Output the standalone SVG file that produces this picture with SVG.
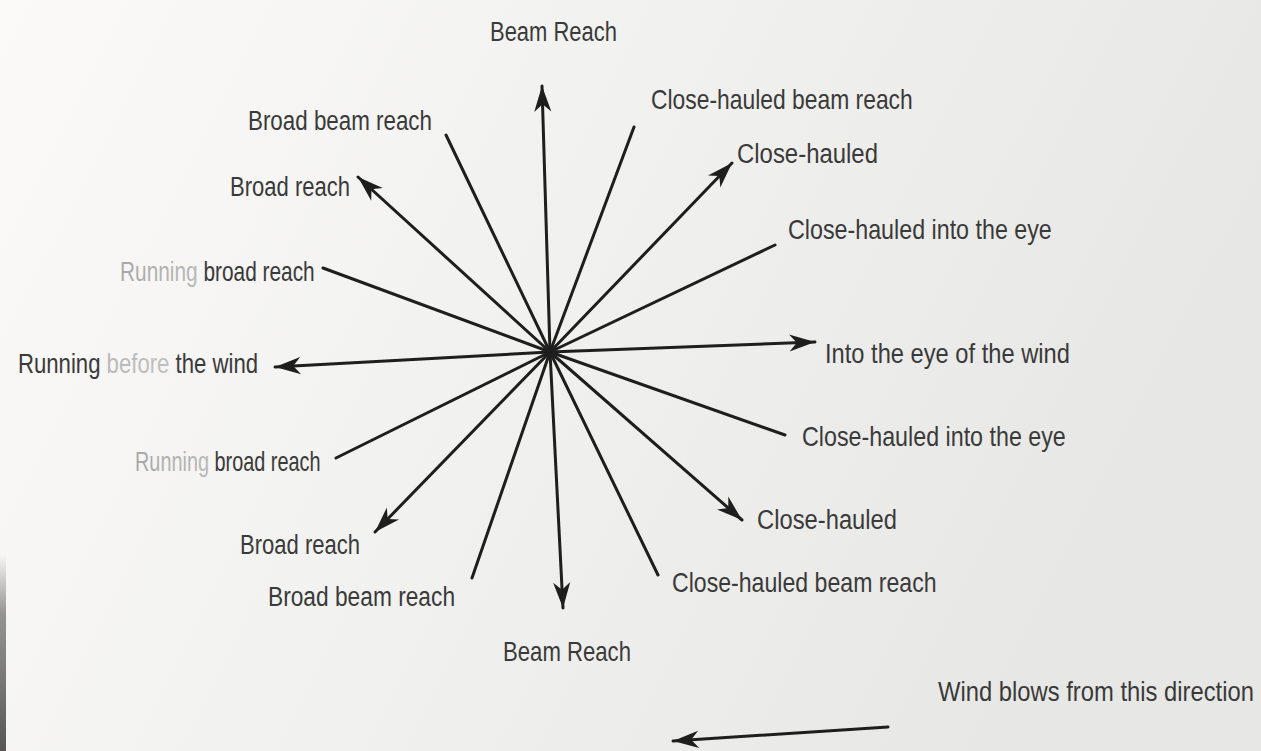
<svg xmlns="http://www.w3.org/2000/svg" width="1261" height="751" viewBox="0 0 1261 751">
<defs>
<linearGradient id="bg" x1="0" y1="0" x2="1" y2="0.3">
<stop offset="0" stop-color="#fbfaf8"/>
<stop offset="0.5" stop-color="#f1f1ef"/>
<stop offset="1" stop-color="#e7e7e5"/>
</linearGradient>
<linearGradient id="spine" x1="0" y1="0" x2="0" y2="1">
<stop offset="0" stop-color="#6a6a6a" stop-opacity="0"/>
<stop offset="0.3" stop-color="#6a6a6a" stop-opacity="0.7"/>
<stop offset="1" stop-color="#444" stop-opacity="0.9"/>
</linearGradient>
<linearGradient id="fadeRun" gradientUnits="userSpaceOnUse" x1="0" y1="0" x2="300" y2="0">
<stop offset="0" stop-color="#a8a8a8"/>
<stop offset="0.34" stop-color="#b8b8b8"/>
<stop offset="0.36" stop-color="#3a3a3a"/>
<stop offset="1" stop-color="#3a3a3a"/>
</linearGradient>
<linearGradient id="fadeBefore" gradientUnits="userSpaceOnUse" x1="0" y1="0" x2="300" y2="0">
<stop offset="0" stop-color="#3a3a3a"/>
<stop offset="0.36" stop-color="#3a3a3a"/>
<stop offset="0.37" stop-color="#b8b8b8"/>
<stop offset="0.63" stop-color="#c0c0c0"/>
<stop offset="0.65" stop-color="#3a3a3a"/>
<stop offset="1" stop-color="#3a3a3a"/>
</linearGradient>
<marker id="ah" markerUnits="userSpaceOnUse" markerWidth="30" markerHeight="30" refX="0" refY="0" viewBox="-26 -10 28 20" orient="auto" overflow="visible">
<path d="M0,0 L-24,-8 L-17,0 L-24,8 Z" fill="#1e1e1e"/>
</marker>
<style>
.l{stroke:#1e1e1e;stroke-width:3;fill:none;stroke-linecap:round}
.a{marker-end:url(#ah)}
text{font-family:"Liberation Sans",Arial,sans-serif;font-size:28px;fill:#3a3a3a}
</style>
</defs>
<rect width="1261" height="751" fill="url(#bg)"/>
<rect x="0" y="555" width="6" height="196" fill="url(#spine)"/>
<g id="connectors">
<line class="l a" x1="550" y1="352" x2="542" y2="86"/>
<line class="l" x1="550" y1="352" x2="634" y2="127"/>
<line class="l a" x1="550" y1="352" x2="732" y2="163"/>
<line class="l" x1="550" y1="352" x2="775" y2="245"/>
<line class="l a" x1="550" y1="352" x2="815" y2="342"/>
<line class="l" x1="550" y1="352" x2="785" y2="435"/>
<line class="l a" x1="550" y1="352" x2="742" y2="520"/>
<line class="l" x1="550" y1="352" x2="658" y2="575"/>
<line class="l a" x1="550" y1="352" x2="563" y2="608"/>
<line class="l" x1="550" y1="352" x2="472" y2="578"/>
<line class="l a" x1="550" y1="352" x2="375" y2="532"/>
<line class="l" x1="550" y1="352" x2="336" y2="458"/>
<line class="l a" x1="550" y1="352" x2="275" y2="367"/>
<line class="l" x1="550" y1="352" x2="323" y2="268"/>
<line class="l a" x1="550" y1="352" x2="358" y2="177"/>
<line class="l" x1="550" y1="352" x2="446" y2="135"/>
<line class="l a" x1="888" y1="727" x2="673" y2="741"/>
</g>
<g id="n-beam-top"><text transform="translate(490,41) scale(0.785,1)">Beam Reach</text></g>
<g id="n-chbr-top"><text transform="translate(651,109) scale(0.817,1)">Close-hauled beam reach</text></g>
<g id="n-bbr-top"><text transform="translate(248,130) scale(0.799,1)">Broad beam reach</text></g>
<g id="n-ch-top"><text transform="translate(737,163) scale(0.855,1)">Close-hauled</text></g>
<g id="n-br-top"><text transform="translate(230,196) scale(0.787,1)">Broad reach</text></g>
<g id="n-chie-top"><text transform="translate(788,239) scale(0.831,1)">Close-hauled into the eye</text></g>
<g id="n-rbr-top"><text transform="translate(120,281) scale(0.745,1)" fill="url(#fadeRun)" style="fill:url(#fadeRun)">Running broad reach</text></g>
<g id="n-eye"><text transform="translate(825,363) scale(0.846,1)">Into the eye of the wind</text></g>
<g id="n-run"><text transform="translate(18,373) scale(0.791,1)" style="fill:url(#fadeBefore)">Running before the wind</text></g>
<g id="n-chie-bot"><text transform="translate(802,446) scale(0.831,1)">Close-hauled into the eye</text></g>
<g id="n-rbr-bot"><text transform="translate(135,471) scale(0.71,1)" style="fill:url(#fadeRun)">Running broad reach</text></g>
<g id="n-ch-bot"><text transform="translate(757,529) scale(0.849,1)">Close-hauled</text></g>
<g id="n-br-bot"><text transform="translate(240,554) scale(0.787,1)">Broad reach</text></g>
<g id="n-chbr-bot"><text transform="translate(672,592) scale(0.826,1)">Close-hauled beam reach</text></g>
<g id="n-bbr-bot"><text transform="translate(268,606) scale(0.812,1)">Broad beam reach</text></g>
<g id="n-beam-bot"><text transform="translate(503,661) scale(0.791,1)">Beam Reach</text></g>
<g id="n-wind"><text transform="translate(938,701) scale(0.85,1)">Wind blows from this direction</text></g>
</svg>
